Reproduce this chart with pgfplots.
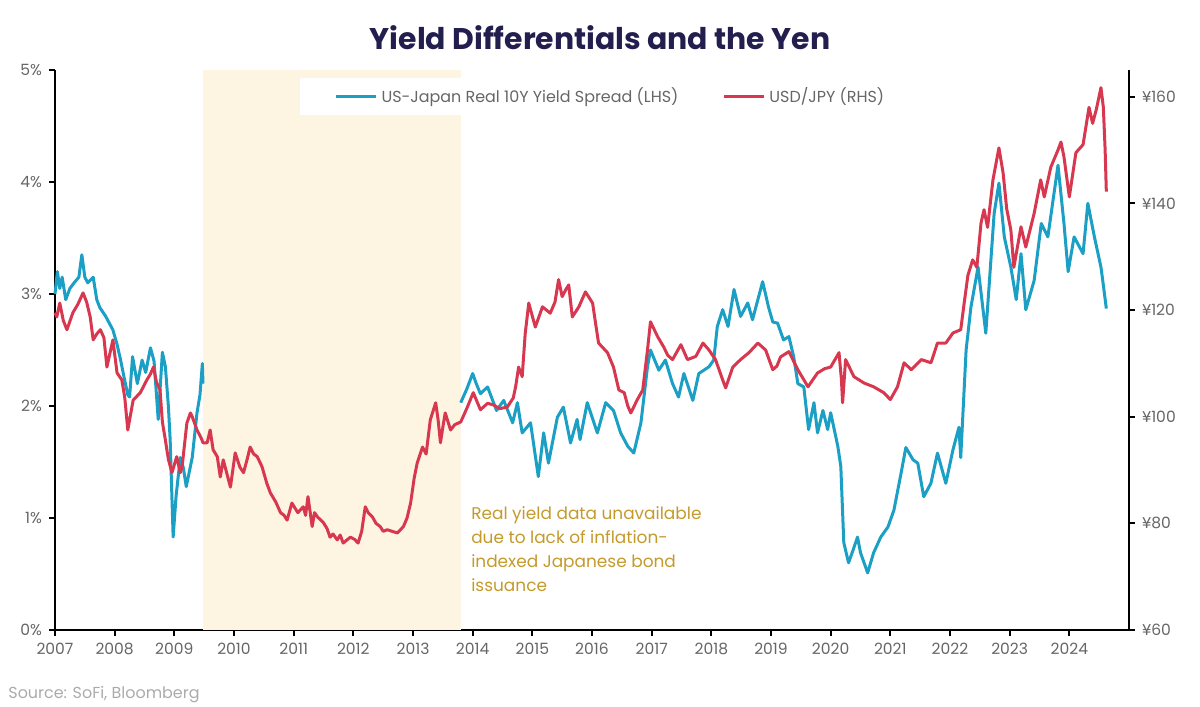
\documentclass[border=0pt]{standalone}
\usepackage{pgfplots}
\pgfplotsset{compat=1.18}
\usepackage{fontspec}
\setmainfont{Poppins}
\definecolor{spread}{HTML}{1B9FC4}
\definecolor{usdjpy}{HTML}{D7384F}
\definecolor{shadecol}{HTML}{FEF4E2}
\definecolor{titlec}{HTML}{221E4E}
\definecolor{notec}{HTML}{C49A2C}
\definecolor{tickc}{HTML}{666666}
\definecolor{srcc}{HTML}{ABABAB}

\pgfplotstableread{
x y
2007.00 3.00
2007.04 3.20
2007.08 3.05
2007.12 3.15
2007.18 2.95
2007.25 3.05
2007.32 3.10
2007.40 3.15
2007.45 3.35
2007.50 3.15
2007.55 3.10
2007.64 3.15
2007.70 2.95
2007.75 2.88
2007.85 2.80
2007.97 2.68
2008.04 2.55
2008.10 2.41
2008.16 2.25
2008.22 2.10
2008.25 2.08
2008.30 2.44
2008.38 2.20
2008.46 2.41
2008.52 2.30
2008.60 2.52
2008.66 2.40
2008.73 1.88
2008.80 2.48
2008.85 2.35
2008.90 2.00
2008.93 1.70
2008.98 0.83
2009.03 1.20
2009.10 1.54
2009.15 1.45
2009.20 1.28
2009.30 1.54
2009.38 1.94
2009.43 2.10
2009.47 2.38
2009.48 2.20
}\spreadA

\pgfplotstableread{
x y
2013.80 2.03
2013.90 2.15
2014.00 2.29
2014.06 2.20
2014.13 2.11
2014.25 2.17
2014.40 1.96
2014.52 2.05
2014.67 1.85
2014.75 2.03
2014.83 1.76
2014.97 1.85
2015.10 1.37
2015.19 1.76
2015.27 1.49
2015.42 1.90
2015.52 1.99
2015.64 1.67
2015.75 1.88
2015.80 1.70
2015.92 2.03
2016.09 1.76
2016.23 2.03
2016.36 1.96
2016.48 1.76
2016.60 1.64
2016.70 1.58
2016.82 1.85
2016.93 2.35
2016.98 2.50
2017.12 2.32
2017.23 2.41
2017.35 2.20
2017.45 2.08
2017.54 2.29
2017.69 2.05
2017.79 2.29
2017.96 2.35
2018.04 2.41
2018.10 2.71
2018.19 2.86
2018.28 2.71
2018.38 3.04
2018.49 2.80
2018.61 2.92
2018.69 2.77
2018.86 3.11
2018.96 2.88
2019.03 2.75
2019.11 2.74
2019.21 2.59
2019.30 2.62
2019.38 2.44
2019.45 2.20
2019.55 2.17
2019.63 1.79
2019.72 2.03
2019.78 1.76
2019.87 1.96
2019.95 1.79
2020.00 1.94
2020.12 1.64
2020.17 1.46
2020.22 0.78
2020.30 0.60
2020.38 0.72
2020.45 0.83
2020.50 0.69
2020.62 0.51
2020.72 0.69
2020.84 0.83
2020.96 0.92
2021.06 1.07
2021.18 1.40
2021.26 1.63
2021.38 1.52
2021.46 1.49
2021.56 1.19
2021.68 1.31
2021.79 1.58
2021.93 1.31
2022.05 1.61
2022.15 1.81
2022.18 1.54
2022.27 2.50
2022.35 2.88
2022.47 3.24
2022.60 2.65
2022.74 3.72
2022.82 3.99
2022.91 3.51
2023.02 3.24
2023.11 2.95
2023.19 3.36
2023.27 2.86
2023.41 3.12
2023.53 3.63
2023.64 3.51
2023.81 4.15
2023.91 3.63
2023.98 3.20
2024.08 3.51
2024.23 3.36
2024.31 3.81
2024.42 3.51
2024.53 3.24
2024.56 3.12
2024.62 2.87
}\spreadB

\pgfplotstableread{
x y
2007.00 119.5
2007.03 118.7
2007.08 121.3
2007.14 118.0
2007.20 116.3
2007.30 119.5
2007.38 121.0
2007.47 123.2
2007.53 121.5
2007.59 118.7
2007.64 114.4
2007.70 115.5
2007.76 116.3
2007.82 114.8
2007.87 109.3
2007.97 114.4
2008.04 108.2
2008.12 106.9
2008.17 103.5
2008.22 97.5
2008.31 103.1
2008.43 104.5
2008.54 106.9
2008.60 108.0
2008.65 109.3
2008.70 106.5
2008.76 105.0
2008.80 99.0
2008.85 95.6
2008.90 92.0
2008.96 89.5
2009.04 92.5
2009.10 89.5
2009.13 90.6
2009.21 98.8
2009.27 100.7
2009.30 100.0
2009.38 97.5
2009.45 96.0
2009.48 95.1
2009.55 95.1
2009.60 97.5
2009.65 93.8
2009.72 92.5
2009.77 88.7
2009.82 91.9
2009.90 88.5
2009.94 86.8
2010.02 93.2
2010.10 90.5
2010.16 89.5
2010.22 92.0
2010.27 94.3
2010.33 93.0
2010.39 92.5
2010.47 90.6
2010.55 87.5
2010.61 85.7
2010.70 84.0
2010.78 82.0
2010.84 81.5
2010.89 80.6
2010.97 83.8
2011.07 82.0
2011.16 83.1
2011.20 81.5
2011.24 85.0
2011.31 79.4
2011.35 82.0
2011.40 81.2
2011.50 80.1
2011.56 79.0
2011.61 77.4
2011.66 78.0
2011.73 76.9
2011.78 77.8
2011.83 76.3
2011.95 77.4
2012.02 77.0
2012.08 76.3
2012.14 78.5
2012.20 83.1
2012.25 82.0
2012.32 81.2
2012.38 80.0
2012.45 79.4
2012.50 78.5
2012.57 78.8
2012.65 78.5
2012.74 78.2
2012.84 79.4
2012.90 81.0
2012.96 83.8
2013.02 88.5
2013.07 91.3
2013.16 94.3
2013.22 93.0
2013.29 99.4
2013.38 102.6
2013.42 99.5
2013.46 95.1
2013.50 98.0
2013.54 100.7
2013.63 97.5
2013.70 98.5
2013.80 99.0
2013.90 101.5
2014.01 104.5
2014.13 101.3
2014.25 102.5
2014.35 102.2
2014.45 101.5
2014.58 101.8
2014.68 103.5
2014.72 105.6
2014.77 109.3
2014.83 107.5
2014.88 115.5
2014.94 121.3
2015.05 116.8
2015.17 120.6
2015.30 119.4
2015.38 121.5
2015.44 125.7
2015.50 122.5
2015.56 123.8
2015.61 124.7
2015.67 118.7
2015.78 120.6
2015.89 123.4
2016.01 121.3
2016.06 117.5
2016.11 113.8
2016.26 112.0
2016.36 109.3
2016.45 105.0
2016.54 104.5
2016.60 102.0
2016.65 100.7
2016.76 103.2
2016.85 105.0
2016.93 112.5
2016.98 117.8
2017.10 115.0
2017.20 113.1
2017.27 111.5
2017.35 110.7
2017.49 113.5
2017.60 110.7
2017.74 111.3
2017.86 113.8
2017.96 112.5
2018.07 110.7
2018.19 106.9
2018.24 105.4
2018.36 109.3
2018.49 110.7
2018.63 112.0
2018.78 113.8
2018.91 112.5
2019.03 108.8
2019.10 109.5
2019.16 111.2
2019.30 112.2
2019.45 108.8
2019.62 105.6
2019.78 108.2
2019.90 109.0
2020.00 109.3
2020.14 112.0
2020.18 107.0
2020.20 102.6
2020.25 110.7
2020.39 107.5
2020.56 106.3
2020.72 105.6
2020.89 104.5
2021.00 103.2
2021.12 105.6
2021.23 110.1
2021.35 108.8
2021.52 110.7
2021.68 110.1
2021.79 113.8
2021.93 113.8
2022.05 115.7
2022.18 116.3
2022.24 121.5
2022.30 126.5
2022.38 129.4
2022.45 128.0
2022.52 136.3
2022.57 138.8
2022.63 135.5
2022.72 144.4
2022.82 150.4
2022.89 145.7
2022.95 139.0
2023.02 135.0
2023.07 128.0
2023.19 135.6
2023.27 131.8
2023.41 138.1
2023.52 144.4
2023.58 141.2
2023.69 146.8
2023.81 150.0
2023.86 151.5
2023.91 148.7
2024.00 141.2
2024.11 149.5
2024.23 151.0
2024.33 158.0
2024.39 155.0
2024.45 157.5
2024.53 161.7
2024.57 158.0
2024.60 150.0
2024.62 142.2
}\yen

\begin{document}
\begin{tikzpicture}
\useasboundingbox (-27.5bp,-38.5bp) rectangle (572.5bp,315bp);
\begin{axis}[
  scale only axis, width=537bp, height=280bp,
  xmin=2007, xmax=2025, ymin=0, ymax=5,
  axis x line*=bottom, axis y line*=left,
  axis line style={black, line width=1bp},
  tick style={black, line width=1bp},
  major tick length=3bp,
  tick align=outside,
  xtick={2007,2008,...,2024},
  ytick={0,1,...,5},
  xticklabel style={/pgf/number format/1000 sep={}, text=tickc, font=\fontsize{7.8}{9.4}\selectfont},
  yticklabel style={text=tickc, font=\fontsize{7.8}{9.4}\selectfont},
  /pgf/number format/assume math mode=true,
  yticklabel={\pgfmathprintnumber{\tick}\%},
  clip=false,
]
\fill[shadecol] (axis cs:2009.48,0) rectangle (axis cs:2013.8,5);
\fill[white] (axis cs:2011.11,4.60) rectangle (axis cs:2021.0,4.93);
\addplot[spread, line width=1.5bp, line join=round] table[x=x,y=y] {\spreadA};
\addplot[spread, line width=1.5bp, line join=round] table[x=x,y=y] {\spreadB};
\node[anchor=north west, align=left, text=notec, font=\fontsize{8.5}{12}\selectfont, inner sep=0pt]
  at (axis cs:2013.97,1.105) {Real yield data unavailable\\due to lack of inflation-\\indexed Japanese bond\\issuance};
\end{axis}
\begin{axis}[
  scale only axis, width=537bp, height=280bp,
  xmin=2007, xmax=2025, ymin=60, ymax=165,
  axis x line=none, axis y line*=right,
  axis line style={black, line width=1bp},
  tick style={black, line width=1bp},
  major tick length=3bp,
  tick align=outside,
  ytick={60,80,...,160},
  yticklabel style={text=tickc, font=\fontsize{7.8}{9.4}\selectfont},
  /pgf/number format/assume math mode=true,
  yticklabel={¥\pgfmathprintnumber{\tick}},
  legend columns=2,
  legend style={at={(0.518,0.952)}, anchor=center, draw=none, fill=none,
    font=\fontsize{8}{9.6}\selectfont, text=tickc,
    /tikz/every even column/.append style={column sep=20bp}},
  legend image code/.code={\draw[#1] (0bp,0bp) -- (20bp,0bp);},
  clip=false,
]
\addlegendimage{spread, line width=1.5bp}
\addlegendentry{US-Japan Real 10Y Yield Spread (LHS)}
\addplot[usdjpy, line width=1.5bp, line join=round] table[x=x,y=y] {\yen};
\addlegendentry{USD/JPY (RHS)}
\end{axis}
\node[text=titlec, font=\fontsize{15}{18}\selectfont\bfseries] at (272.5bp,296bp) {Yield Differentials and the Yen};
\node[anchor=west, text=srcc, font=\fontsize{8}{9.6}\selectfont, inner sep=0pt] at (-23.5bp,-32.5bp) {Source: SoFi, Bloomberg};
\end{tikzpicture}
\end{document}
